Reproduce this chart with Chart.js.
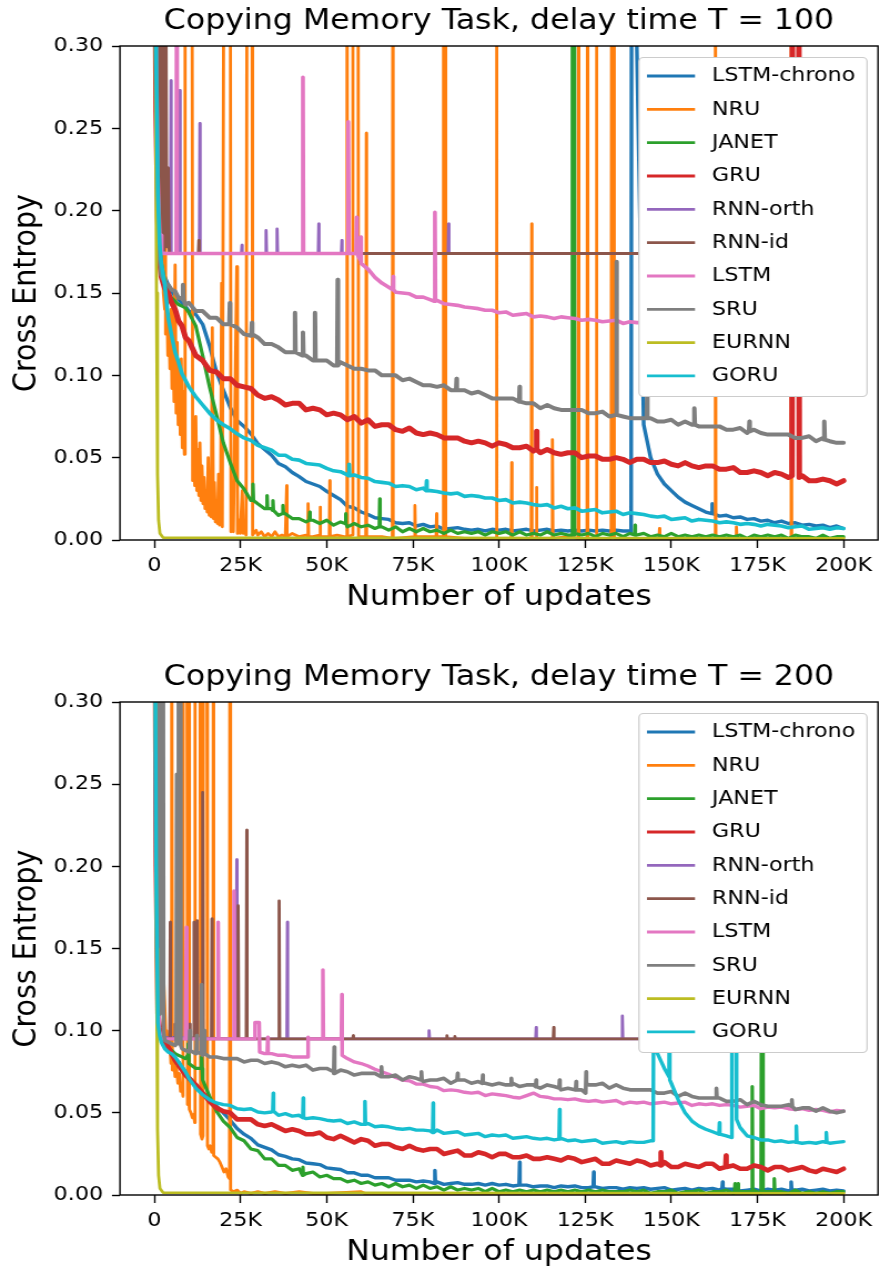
<!doctype html>
<html lang="en">
<head>
<meta charset="UTF-8">
<title>Copying Memory Task</title>
<script src="https://cdn.jsdelivr.net/npm/chart.js@4"></script>
<style>
  * { margin: 0; padding: 0; box-sizing: border-box; }
  body { background: #fff; width: 880px; }
  canvas { display: block; }
</style>
</head>
<body>
<canvas id="chart100" width="793" height="637" style="width:880px;height:637px"></canvas>
<canvas id="chart200" width="793" height="638" style="width:880px;height:638px"></canvas>

<script>
// x in thousands of updates, y in thousandths of cross entropy
const seriesNames = ['LSTM-chrono', 'NRU', 'JANET', 'GRU', 'RNN-orth', 'RNN-id', 'LSTM', 'SRU', 'EURNN', 'GORU'];
const seriesColors = ['#1f77b4', '#ff7f0e', '#2ca02c', '#d62728', '#9467bd', '#8c564b', '#e377c2', '#7f7f7f', '#bcbd22', '#17becf'];
// noisy curves get a heavier stroke
const widths100 = [3.4, 2.8, 3.2, 5.0, 2.8, 2.8, 3.6, 4.0, 2.8, 3.6];
const widths200 = [3.4, 2.8, 3.2, 4.6, 2.8, 2.8, 3.4, 3.6, 2.8, 3.4];
const xTicks = [0, 25, 50, 75, 100, 125, 150, 175, 200];
const yTicks = [0, 0.05, 0.1, 0.15, 0.2, 0.25, 0.3];

const gridK = [0, 0.5, 1, 1.5, 2, 3, 4, 5, 6, 7, 8, 9, 10, 12, 14, 16, 18, 20,
  22, 24, 26, 28, 30, 32, 34, 36, 38, 40,
  42, 44, 46, 48, 50, 52, 54, 56, 58, 60,
  62, 64, 66, 68, 70, 72, 74, 76, 78, 80,
  82, 84, 86, 88, 90, 92, 94, 96, 98, 100,
  102, 104, 106, 108, 110, 112, 114, 116, 118, 120,
  122, 124, 126, 128, 130, 132, 134, 136, 138, 140,
  142, 144, 146, 148, 150, 152, 154, 156, 158, 160,
  162, 164, 166, 168, 170, 172, 174, 176, 178, 180,
  182, 184, 186, 188, 190, 192, 194, 196, 198, 200];

// ---- delay time T = 100 ----
const chrono100 = [450,290,210,180,168,160,155,151,148,146,144,142,139,137,131,118,102,91,
  80.5,72.5,69,64.5,58.5,55,51.5,46.5,44.5,41,
  38.5,35.5,34,32.5,29.5,27,24.5,20.5,19.5,17,
  15.5,13.5,13,12.5,10.5,10,10.5,8.5,9.5,8,
  8.5,6.5,7,7.5,6.5,6,6.5,5.5,6.5,6,
  6.5,5.5,6,6.5,5.5,6,6.5,5.5,6,5.5,
  6,5.5,6,5.5,6,5.5,6,5.5,5.5,300,
  70,50,40,34,30,26,23,21,19,17,
  16.5,14.5,15,13.5,14,12.5,13,11.5,12,10.5,
  11.5,10,10.5,9,9.5,8.5,9,7.5,8.5,7];
const chrono100Spikes = [[138.5,5,420,420,0.9],[161.9,16,22]];

const nru100 = [[0,450],[0.5,420],[1,330],[1.5,260],[2,200],[2.3,230],[2.6,150],[3.0,140],[3.1,420],[3.25,125],
  [3.6,150],[3.9,112],[4.2,135],[4.5,104],[4.8,140],[5.1,92],[5.4,125],[5.7,84],[6.0,167],[6.3,77],
  [6.6,120],[6.9,70],[7.2,105],[7.5,64],[7.8,110],[8.1,56],[8.4,90],[8.7,52],[8.9,420],[10.9,420],
  [11.1,36],[11.4,60],[11.7,33],[12.0,75],[12.3,30],[12.6,55],[12.9,27],[13.2,59],[13.5,24],[13.8,45],
  [14.1,22],[14.4,38],[14.7,19],[15.0,30],[15.3,17],[15.6,50],[15.9,15],[16.2,28],[16.5,14],[16.8,129],
  [17.1,13],[17.4,35],[17.7,11],[18.0,22],[18.3,10],[18.6,40],[18.9,9],[19.2,18],[19.5,156],[19.7,8],
  [20.2,420],[22.0,420],[22.2,5],[22.6,20],[22.9,5],[23.9,166],[24.1,4],[24.6,12],[24.9,4],[25.5,30],
  [25.8,4],[26.3,8],[26.6,3],[26.9,420],[28.3,420],[28.5,3],[29.5,6],[30,3],[31,5],[32,2],
  [33,4],[34,2],[35,5],[36,2],[37,3],[38,2],[40,4],[42,2],[44,3],[46,2],
  [48,3],[50,2],[53,3],[55,2],[58,3],[62,2],[66,2],[70,1],[80,2],[90,1],
  [100,1],[120,2],[140,1],[160,1],[180,1],[200,1]];
const nru100Spikes = [[38.4,2,33],[44.6,2,22],[48.1,3,20,2],[50.9,2,36],[55.9,2,420],[57.6,3,420,2,1.5],
  [61.5,2,247],[69.2,1,420],[75.6,2,21],[81.9,2,16],[83.9,2,420,2,0.5],[99.3,1,420],[103.7,1,47],
  [109.5,1,192],[110.9,1,32],[115.5,1,61],[123.1,1,420],[125.7,1,420],[128.3,1,420],[132.7,1,420,1,0.6],
  [146.6,1,7],[162.8,1,420],[168.9,1,8],[184.8,1,420]];

const janet100 = [450,290,210,180,168,157,150,147,145,143,142,141,138,130,112,93,76,59,
  47,36,31,24,22,19,19,15,16,13,
  13,11,12,10,12,9,11,8,10,8,
  9,7,8,6,8,5,7,5,7,5,
  6,4,6,4,5,4,5,3,5,4,
  5,3,5,3,4,3,5,3,4,3,
  4,3,4,2,4,3,4,2,4,3,
  4,2,3,2,4,2,3,2,3,2,
  3,2,3,2,3,1,3,2,3,2,
  3,1,3,2,2,1,3,1,2,2];
const janet100Spikes = [[28.6,24,34],[32.7,19,27],[34.4,18,24],[37.3,16,21],[45.1,12,17],[55.5,10,16],
  [65.4,8,25],[121.3,3,420,3,0.4],[139.5,3,9]];

const gru100 = [420,260,195,170,160,153,150,144,140,133,130,123,121,112,109,103,102,98,
  98,94,93,92,88,86,87,85,82,83,
  83,79,80,79,76,77,76,73,75,71,
  73,69,70,70,67,66,68,65,64,65,
  64,62,62,62,60,59,60,59,57,59,
  58,56,56,57,54,53,55,53,52,53,
  53,50,51,51,49,49,50,49,47,49,
  49,47,47,48,46,45,47,45,44,45,
  45,43,43,44,41,41,42,41,39,41,
  40,38,38,39,36,36,37,36,34,36];
const gru100Spikes = [[110.9,55,66],[185.2,39,420,38,1.8]];

const orth100 = [[0,450],[0.5,400],[1,300],[1.5,250],[2,190],[2.5,174],[200,174]];
const orth100Spikes = [[2.6,174,232],[4.8,174,279],[7.4,174,273],[13.2,174,253],[25.4,174,179],
  [32.4,174,188],[35.6,174,189],[47.7,174,192],[54.4,174,182],[85.4,174,192]];

const id100 = [[0,450],[0.8,420],[1.2,180],[1.6,420],[2.0,178],[2.4,420],[2.8,176],[3.2,420],
  [3.6,178],[4.0,226],[4.3,174],[200,174]];
const id100Spikes = [[12.9,174,182]];

const lstm100 = [450,300,220,185,178,174,174,174,174,174,174,174,174,174,174,174,174,174,
  174,174,174,174,174,174,174,174,174,174,
  174,174,174,174,174,174,174,174,174,170,
  164.5,159.5,156,153.5,150.5,150,149.5,147.5,147.5,146,
  145.5,143.5,143,142.5,141.5,141,140.5,139.5,139.5,138,
  138.5,136.5,137,137.5,135.5,136,135.5,134.5,135.5,135,
  134.5,133.5,134,133.5,132.5,133,133.5,131.5,132.5,132,
  132,131,131,130,130,130,129,129,129,128,
  128,128,127,127,127,126,126,126,125,125,
  125,125,124,124,124,123,123,123,122,122];
const lstm100Spikes = [[2,178,185,174],[6.5,174,420,174],[43.1,174,281],[56.3,174,254],[58.7,174,196],
  [59.9,170,184,168],[69.3,152,160],[81.4,145,199]];

const sru100 = [450,280,200,172,161,156,155,152,151,147,147,143,144,139,139,135,135,131,
  130,129,125,124,123,119,119,117,114,114,
  113,112,109,109,109,106,108,106,104,104,
  103,103,100,100,100,97,98,96,94,94,
  93,94,91,91,91,89,90,88,86,86,
  86,86,83,83,83,80,82,80,79,79,
  79,79,77,77,78,75,77,75,74,74,
  74,74,72,72,73,70,72,70,69,69,
  69,69,67,67,68,65,67,65,64,64,
  64,64,62,62,63,60,62,60,59,59];
const sru100Spikes = [[8.3,146,155],[21.9,131,144],[28.3,125,132],[40.8,114,138],[43.1,112,126],
  [46.6,109,138],[53.2,106,158],[87.7,91,98],[106,84,93],[134.1,76,169],[143,74,87],[156.7,70,80],
  [172.7,66,72],[194.4,61,72]];

const eurnn100 = [[0,450],[0.3,300],[0.6,150],[0.9,40],[1.2,12],[1.6,4],[2.5,1.5],[200,1]];

const goru100 = [450,290,210,180,168,155,135,124,114,108,101,97,93,87,82,77,73,70,
  67.5,64.5,62,60.5,57.5,56,54.5,51.5,51.5,49,
  48.5,46.5,46,45.5,43.5,42,41.5,39.5,39.5,38,
  37.5,35.5,35,34.5,32.5,33,32.5,30.5,31.5,30,
  29.5,28.5,28,28.5,26.5,27,26.5,25.5,25.5,24,
  24.5,22.5,23,22.5,21.5,21,21.5,19.5,20.5,19,
  19.5,17.5,18,18.5,16.5,17,17.5,15.5,16.5,16,
  15.5,14.5,14,14.5,12.5,13,13.5,11.5,12.5,12,
  11.5,10.5,11,10.5,9.5,10,9.5,8.5,9.5,9,
  8.5,7.5,8,8.5,6.5,7,7.5,6.5,7.5,7];
const goru100Spikes = [[56.5,39,46],[79,30,36]];

// ---- delay time T = 200 ----
const chrono200 = [450,200,110,100,95,91,88,85,83,81,78,75,72,67,62,58,54,50,
  45.5,40.5,37,34.5,30.5,29,27.5,24.5,23.5,22,
  21.5,19.5,19,18.5,16.5,16,15.5,13.5,13.5,12,
  12,10.5,10.5,10.5,9,9,9,8,8.5,8,
  8,6.5,7,7.5,6.5,6.5,7,6,7,6,
  6.5,5.5,6,6,5,5.5,5.5,4.5,5.5,5,
  5.5,4.5,4.5,5,4,4.5,4.5,3.5,4.5,4,
  4.5,3.5,4,4.5,3,3.5,4,3,4,3.5,
  4,3,3.5,3.5,2.5,3,3.5,2.5,3.5,3,
  3.5,2.5,3,3.5,2.5,3,3.5,2.5,3,2.5];
const chrono200Spikes = [[81.4,7,15],[106,6,20],[127.5,5,14],[164.9,4,8],[184.8,3,8]];

const nru200 = [[0,450],[0.5,420],[1,380],[1.5,300],[2,200],[2.5,140],[3,115],[3.3,96],[3.6,100],[4,90],
  [4.4,95],[4.8,80],[5.0,420],[5.2,76],[5.6,82],[6.0,72],[6.4,78],[6.8,68],[7.2,74],[7.6,63],
  [8.0,66],[8.3,60],[8.4,420],[9.4,420],[9.6,55],[10.0,58],[10.1,420],[10.2,52],[10.6,50],[11.0,47],
  [11.4,49],[11.7,44],[11.8,420],[13.2,420],[13.4,37],[13.8,34],[14.1,36],[14.2,420],[15.2,420],[15.4,30],
  [15.8,28],[16.2,30],[16.6,26],[17.0,27],[17.1,420],[17.2,24],[17.8,23],[18.4,22],[19.0,20],[19.6,17],
  [20.2,14],[20.8,16],[21.4,11],[21.8,10],[21.9,420],[22.1,3],[23,2],[24,3],[25,1],[26,2],
  [28,1],[30,2],[32,1],[35,2],[38,1],[42,2],[46,1],[50,1],[60,2],[61,1],
  [70,1],[100,1],[150,1],[200,1]];

const janet200 = [450,200,110,100,95,91,89,88,86,85,84,83,80,77,70,60,51,45,
  41,35,33,28,27,22,22,18,18,15,
  16,13,14,11,12,10,10,8,9,7,
  8,6,7,5,7,5,6,4,6,4,
  5,3,5,3,4,3,4,2,4,2,
  3,2,3,2,3,2,3,2,3,2,
  3,2,3,2,3,2,2,2,3,2,
  3,1,2,2,3,1,2,2,3,1,
  2,2,3,1,2,2,3,1,2,2,
  2,1,3,1,2,1,2,1,2,2];
const janet200Spikes = [[9.8,85,92],[13.7,77,84],[43.1,12,17],[168.5,2,7],[169.4,2,7],[173.5,2,66],
  [176.2,2,140,2,0.3],[179.9,2,10]];

const gru200 = [450,200,110,102,97,93,90,86,82,79,76,73,71,67,62,57,53,51,
  50,46,46,46,43,42,43,41,39,40,
  39,37,37,38,35,34,36,34,32,34,
  33,30,31,31,29,28,30,28,27,28,
  28,25,26,27,24,24,26,25,23,25,
  25,23,23,24,22,22,23,22,21,23,
  22,20,21,22,19,19,21,20,19,21,
  20,18,19,20,17,17,19,18,17,19,
  19,16,17,18,16,16,18,17,15,17,
  17,15,16,17,15,14,16,15,14,16];
const gru200Spikes = [[147,18,26],[165.9,17,24]];

const orth200 = [[0,450],[0.5,300],[1,150],[1.5,100],[2,96],[200,95]];
const orth200Spikes = [[23.9,95,204],[38.6,95,166],[79.7,95,100],[110.8,95,102],[135.8,95,109]];

const id200 = [[0,450],[0.5,300],[1,200],[1.5,120],[2,96],[200,95]];
const id200Spikes = [[1.4,100,420,96],[4.6,95,166],[6.0,95,104],[7.4,95,169],[10.3,95,104],[11.5,95,166],
  [12.4,95,167],[14.0,95,245],[16.7,95,168],[24.3,95,176],[26.8,95,222],[36.2,95,179],[57.7,95,97],
  [84.9,95,97],[87.2,95,96.5],[115.9,95,102]];

const lstm200 = [450,200,110,100,95,95,95,95,95,95,95,95,95,95,95,95,95,95,
  95,95,95,95,87,86,86,85,85,84,
  84,84,95,95,95,95,95,83,81,80,
  78.5,76.5,75,73.5,71.5,70,69.5,67.5,67.5,66,
  65.5,63.5,64,63.5,62.5,62,62.5,60.5,61.5,61,
  60.5,59.5,59,60.5,62,60,59.5,58.5,58.5,58,
  58.5,57.5,57,57.5,56.5,57,57.5,55.5,56.5,56,
  56.5,55.5,56,56.5,55.5,56,56.5,54.5,55.5,55,
  55.5,54.5,55,54.5,53.5,54,54.5,52.5,53.5,53,
  53.5,52.5,52,52.5,51.5,52,51.5,50.5,51.5,51];
const lstm200Spikes = [[1.2,110,183,100],[9.3,95,163],[18.5,95,166],[23.1,95,185],[29.2,95,105,87,1.2],
  [32.9,86,96],[44.6,84,96,95],[48.9,95,137],[54.4,95,122,85]];

const sru200 = [450,200,110,100,96,94,93,92,91,90,89,88,87,86,85,84,84,83,
  83,83,81,82,82,80,81,80,78,79,
  78,79,76,77,77,75,76,75,73,74,
  74,74,72,72,73,70,72,71,69,70,
  70,71,68,69,70,68,69,68,67,68,
  67,68,66,67,67,65,67,66,64,65,
  64,64,67,67,68,65,67,65,64,64,
  64,64,62,62,63,60,62,60,59,59,
  59,59,57,57,58,55,57,55,54,54,
  54,55,52,53,53,51,53,51,50,51];
const sru200Spikes = [[1.5,110,420,100,1.0],[6.5,92,256],[7.0,92,420,91,0.5],[10.3,88,100],[12.3,87,97],
  [13.7,86,128],[14.5,86,100],[52.2,74,90],[65.9,72,78],[77.5,70,75],[88,70,74],[95.3,68,73],
  [103.6,67,71],[110.8,66,70],[117.6,65,70],[122.4,64,69],[125.3,62,75,68],[163.1,59,65],[185,54,58]];

const eurnn200 = [[0,450],[0.3,300],[0.6,150],[0.9,40],[1.2,12],[1.6,4],[2.5,1.5],[200,1]];

const goru200 = [450,200,105,97,93,89,87,86,84,81,78,75,71,65,61,58,56,55,
  54.5,52.5,52,52.5,50.5,50,50.5,48.5,49.5,48,
  48.5,46.5,47,46.5,45.5,45,45.5,43.5,44.5,43,
  43.5,41.5,42,41.5,40.5,40,40.5,39.5,39.5,39,
  39.5,37.5,38,38.5,36.5,37,37.5,35.5,36.5,36,
  36.5,34.5,35,35.5,34.5,34,34.5,33.5,34.5,33,
  33.5,32.5,33,33.5,31.5,32,32.5,31.5,32.5,32,
  32,33,86,77,68,58,50,45,42,40,
  38.5,37,36,36,41,36,35,33.5,33.5,32.5,
  33,32,32.5,31.5,32,31.5,32.5,31.5,32,32.5];
const goru200Spikes = [[34.5,51,62],[43.2,47,59],[61.1,43,57],[80.9,38,56],[117.6,34,52],
  [144.9,33,130,90,0.3],[149.5,72,130,70],[164,37,44],[167.6,35,140,46,1.2],[186.3,32,42],[195,32,38]];

// spike = [x, value before, peak, value after, plateau width]
function toPoints(s) {
  let pts = s.grid
    ? gridK.map((x, i) => ({x, y: s.grid[i] / 1000}))
    : s.pairs.map(([x, y]) => ({x, y: y / 1000}));
  (s.spikes || []).forEach(([x, a, b, c = a, w = 0]) => {
    const lo = x - 0.15, hi = x + w + 0.15;
    pts = pts.filter(p => p.x < lo || p.x > hi);
    pts.push({x: lo, y: a / 1000}, {x, y: b / 1000}, {x: x + w, y: b / 1000}, {x: hi, y: c / 1000});
  });
  return pts.sort((p, q) => p.x - q.x);
}

const runs100 = [
  {grid: chrono100, spikes: chrono100Spikes},
  {pairs: nru100, spikes: nru100Spikes},
  {grid: janet100, spikes: janet100Spikes},
  {grid: gru100, spikes: gru100Spikes},
  {pairs: orth100, spikes: orth100Spikes},
  {pairs: id100, spikes: id100Spikes},
  {grid: lstm100, spikes: lstm100Spikes},
  {grid: sru100, spikes: sru100Spikes},
  {pairs: eurnn100},
  {grid: goru100, spikes: goru100Spikes}
];
const runs200 = [
  {grid: chrono200, spikes: chrono200Spikes},
  {pairs: nru200},
  {grid: janet200, spikes: janet200Spikes},
  {grid: gru200, spikes: gru200Spikes},
  {pairs: orth200, spikes: orth200Spikes},
  {pairs: id200, spikes: id200Spikes},
  {grid: lstm200, spikes: lstm200Spikes},
  {grid: sru200, spikes: sru200Spikes},
  {pairs: eurnn200},
  {grid: goru200, spikes: goru200Spikes}
];

Chart.defaults.font.family = '"DejaVu Sans", sans-serif';
Chart.defaults.color = '#000';

// title, boxed legend and the full axes frame
const decorPlugin = {
  id: 'decor',
  afterDatasetsDraw(chart, args, opts) {
    const {ctx, chartArea: a} = chart;
    ctx.save();
    const bx = a.right - 215.4, by = a.top + 11.5, bw = 205.5, bh = 339;
    ctx.beginPath();
    ctx.roundRect(bx, by, bw, bh, 4);
    ctx.fillStyle = '#fff';
    ctx.fill();
    ctx.strokeStyle = '#cccccc';
    ctx.lineWidth = 1.2;
    ctx.stroke();
    ctx.font = '20px "DejaVu Sans"';
    ctx.textBaseline = 'middle';
    ctx.textAlign = 'left';
    chart.data.datasets.forEach((ds, i) => {
      const y = by + 18.5 + i * 33.33;
      ctx.beginPath();
      ctx.moveTo(a.right - 208.2, y);
      ctx.lineTo(a.right - 164.9, y);
      ctx.strokeStyle = ds.borderColor;
      ctx.lineWidth = 2.8;
      ctx.lineCap = 'butt';
      ctx.stroke();
      ctx.fillStyle = '#000';
      ctx.fillText(ds.label, a.right - 149.6, y);
    });
    ctx.strokeStyle = '#000';
    ctx.lineWidth = 1.4;
    ctx.strokeRect(a.left, a.top, a.right - a.left, a.bottom - a.top);
    ctx.font = '28.5px "DejaVu Sans"';
    ctx.textAlign = 'center';
    ctx.fillStyle = '#000';
    ctx.fillText(opts.text, (a.left + a.right) / 2, opts.y);
    ctx.restore();
  }
};

function makeChart(id, runs, widths, title, titleY, top, xAxisHeight, xTitlePad) {
  const datasets = runs.map((r, i) => ({
    label: seriesNames[i],
    data: toPoints(r),
    borderColor: seriesColors[i],
    borderWidth: widths[i],
    pointRadius: 0,
    tension: 0,
    borderJoinStyle: 'round',
    borderCapStyle: 'round',
    order: runs.length - 1 - i
  }));
  return new Chart(document.getElementById(id), {
    type: 'line',
    data: {datasets},
    plugins: [decorPlugin],
    options: {
      responsive: false,
      devicePixelRatio: 1,
      animation: false,
      events: [],
      layout: {padding: {left: 0, right: 1.8, top: top, bottom: 0}},
      plugins: {
        legend: {display: false},
        tooltip: {enabled: false},
        decor: {text: title, y: titleY}
      },
      scales: {
        x: {
          type: 'linear', min: -10, max: 210,
          afterBuildTicks: s => { s.ticks = xTicks.map(v => ({value: v})); },
          afterFit: s => { s.height = xAxisHeight; },
          border: {display: false},
          grid: {drawOnChartArea: false, drawTicks: true, tickLength: 8, tickColor: '#000', tickWidth: 1.4},
          ticks: {font: {size: 20}, padding: 6, maxRotation: 0, autoSkip: false,
                  callback: v => v === 0 ? '0' : v + 'K'},
          title: {display: true, text: 'Number of updates', font: {size: 28.5},
                  padding: {top: 0, bottom: xTitlePad}}
        },
        y: {
          min: 0, max: 0.3,
          afterBuildTicks: s => { s.ticks = yTicks.map(v => ({value: v})); },
          afterFit: s => { s.width = 108.1; },
          border: {display: false},
          grid: {drawOnChartArea: false, drawTicks: true, tickLength: 7.2, tickColor: '#000', tickWidth: 1.4},
          ticks: {font: {size: 20}, padding: 8, callback: v => v.toFixed(2)},
          title: {display: true, text: 'Cross Entropy', font: {size: 28.5},
                  padding: {top: 7.7, bottom: 0}}
        }
      }
    }
  });
}

makeChart('chart100', runs100, widths100, 'Copying Memory Task, delay time T = 100', 22, 46, 97, 22.4);
makeChart('chart200', runs200, widths200, 'Copying Memory Task, delay time T = 200', 40.5, 65, 80, 5.4);
</script>
</body>
</html>
